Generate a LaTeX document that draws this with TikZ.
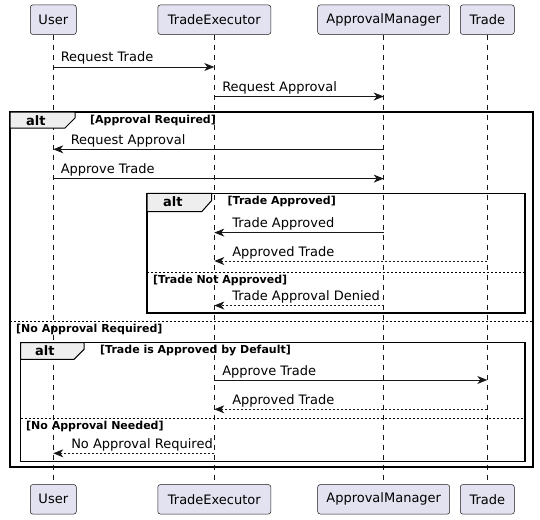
\documentclass[tikz,border=0pt]{standalone}
\usepackage{fontspec}
\setmainfont{DejaVu Sans}
\usetikzlibrary{arrows.meta}
\definecolor{partfill}{HTML}{E2E2F0}
\definecolor{ink}{HTML}{181818}
\definecolor{tabfill}{HTML}{EEEEEE}
\tikzset{
  part/.style={draw=ink, fill=partfill, rounded corners=2.5pt, line width=0.5pt,
    minimum height=29.5pt, inner xsep=2pt, font=\fontsize{13}{15}\selectfont},
  life/.style={draw=ink, dash pattern=on 5pt off 5pt, line width=0.5pt},
  msg/.style={draw=ink, line width=0.9pt, -{Stealth[length=10pt,width=8pt,inset=3pt]}},
  reply/.style={msg, dash pattern=on 2pt off 2pt},
  mlabel/.style={font=\fontsize{13}{15}\selectfont, inner sep=0pt, anchor=base west, text=black},
  frame/.style={draw=black, line width=1.5pt},
  tab/.style={draw=black, fill=tabfill, line width=1pt},
  altlabel/.style={font=\bfseries\fontsize{13}{15}\selectfont, inner sep=0pt, anchor=base west},
  guard/.style={font=\bfseries\fontsize{11}{13}\selectfont, inner sep=0pt, anchor=base west},
  sep/.style={draw=black, line width=0.8pt, dash pattern=on 2pt off 2pt},
}
\begin{document}
\begin{tikzpicture}[x=1pt,y=-1pt]
\useasboundingbox (0,0) rectangle (540,519);
% participants
\node[part, minimum width=46pt]  (uT) at (53.3,19.7) {User};
\node[part, minimum width=113pt] (eT) at (214.3,19.7) {TradeExecutor};
\node[part, minimum width=132pt] (aT) at (383.7,19.7) {ApprovalManager};
\node[part, minimum width=54pt]  (tT) at (487.3,19.7) {Trade};
\node[part, minimum width=46pt]  (uB) at (53.3,499.3) {User};
\node[part, minimum width=113pt] (eB) at (214.3,499.3) {TradeExecutor};
\node[part, minimum width=132pt] (aB) at (383.7,499.3) {ApprovalManager};
\node[part, minimum width=54pt]  (tB) at (487.3,499.3) {Trade};
% lifelines
\draw[life] (uT) -- (uB);
\draw[life] (eT) -- (eB);
\draw[life] (aT) -- (aB);
\draw[life] (tT) -- (tB);
% rows
\coordinate (r1) at (0,67);
\coordinate (r2) at (0,96.5);
\coordinate (r3) at (0,149.3);
\coordinate (r4) at (0,178.6);
\coordinate (r5) at (0,232.6);
\coordinate (r6) at (0,261);
\coordinate (r7) at (0,305.5);
\coordinate (r8) at (0,380);
\coordinate (r9) at (0,409.3);
\coordinate (r10) at (0,453.3);
% outer alt frame
\draw[frame] (10,112) rectangle (533,467);
\draw[tab] (10,112) -- (75,112) -- (75,118) -- (65,128) -- (10,128) -- cycle;
\node[altlabel] (altA) at (26,125) {alt};
\node[guard] (gA) at (90,123) {[Approval Required]};
\draw[sep] (10,321) -- (533,321);
\node[guard] (gB) at (16,332) {[No Approval Required]};
% inner alt 1
\draw[frame] (147,193.3) rectangle (525,313);
\draw[tab] (147,193.3) -- (211.7,193.3) -- (211.7,200.5) -- (201.7,211.7) -- (147,211.7) -- cycle;
\node[altlabel] (altB) at (163,206.5) {alt};
\node[guard] (gC) at (227.5,204.5) {[Trade Approved]};
\draw[sep] (147,272) -- (525,272);
\node[guard] (gD) at (153,283) {[Trade Not Approved]};
% inner alt 2
\draw[frame] (20.7,342.7) rectangle (525,461.7);
\draw[tab] (20.7,342.7) -- (84,342.7) -- (84,349.3) -- (74,359.3) -- (20.7,359.3) -- cycle;
\node[altlabel] (altC) at (35,355.7) {alt};
\node[guard] (gE) at (100,353.7) {[Trade is Approved by Default]};
\draw[sep] (20.7,418.3) -- (525,418.3);
\node[guard] (gF) at (26,429.3) {[No Approval Needed]};
% messages
\draw[msg] (uT |- r1) -- (eT |- r1) node[mlabel, at start, xshift=7pt, yshift=5pt] (l1) {Request Trade};
\draw[msg] (eT |- r2) -- (aT |- r2) node[mlabel, at start, xshift=7.5pt, yshift=5pt] (l2) {Request Approval};
\draw[msg] (aT |- r3) -- (uT |- r3) node[mlabel, at end, xshift=17pt, yshift=5pt] (l3) {Request Approval};
\draw[msg] (uT |- r4) -- (aT |- r4) node[mlabel, at start, xshift=7pt, yshift=5pt] (l4) {Approve Trade};
\draw[msg] (aT |- r5) -- (eT |- r5) node[mlabel, at end, xshift=17.5pt, yshift=5pt] (l5) {Trade Approved};
\draw[reply] (tT |- r6) -- (eT |- r6) node[mlabel, at end, xshift=17.5pt, yshift=5pt] (l6) {Approved Trade};
\draw[reply] (aT |- r7) -- (eT |- r7) node[mlabel, at end, xshift=17.5pt, yshift=5pt] (l7) {Trade Approval Denied};
\draw[msg] (eT |- r8) -- (tT |- r8) node[mlabel, at start, xshift=7.5pt, yshift=5pt] (l8) {Approve Trade};
\draw[reply] (tT |- r9) -- (eT |- r9) node[mlabel, at end, xshift=17.5pt, yshift=5pt] (l9) {Approved Trade};
\draw[reply] (eT |- r10) -- (uT |- r10) node[mlabel, at end, xshift=17.5pt, yshift=5pt] (l10) {No Approval Required};
\end{tikzpicture}
\end{document}
